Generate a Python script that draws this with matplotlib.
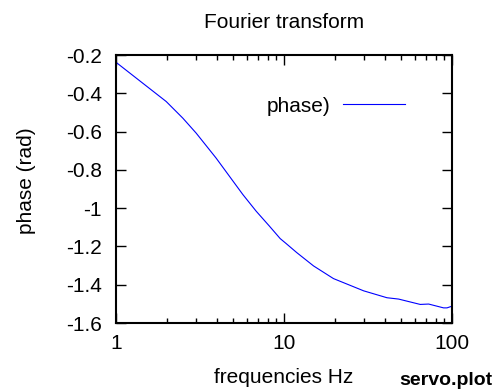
import numpy as np
import matplotlib.pyplot as plt
from matplotlib.ticker import FixedLocator, NullFormatter

plt.rcParams['font.family'] = ['Liberation Sans', 'DejaVu Sans']

# phase response read from the servo measurement
freq_hz = [1.0, 1.99, 2.5, 3.0, 3.94, 4.73, 5.69, 6.83, 8.19, 9.49, 10.3, 11.9, 15.0, 19.7,
           29.8, 41.0, 48.1, 64.7, 72.6, 89.1, 93.4, 100.0]
phase_rad = [-0.238, -0.443, -0.53, -0.608, -0.738, -0.833, -0.929, -1.016, -1.094, -1.159, -1.185,
             -1.232, -1.302, -1.368, -1.432, -1.468, -1.475, -1.503, -1.501, -1.521, -1.521, -1.512]

y_ticks = [-1.6, -1.4, -1.2, -1.0, -0.8, -0.6, -0.4, -0.2]
y_labels = ['-1.6', '-1.4', '-1.2', '-1', '-0.8', '-0.6', '-0.4', '-0.2']
x_ticks = [1, 10, 100]
x_labels = ['1', '10', '100']

W, H = 501, 392
FS = 15

fig = plt.figure(figsize=(W / 100, H / 100), dpi=100)
ax = fig.add_axes([116 / W, 1 - 323 / H, 336 / W, 268 / H])

ax.plot(freq_hz, phase_rad, color='#0000ff', lw=0.8, label='phase)')
ax.set_xscale('log')
ax.set_xlim(1, 100)
ax.set_ylim(-1.6, -0.2)

ax.set_xticks(x_ticks)
ax.set_xticklabels(x_labels)
minors = [m * d for d in (1, 10) for m in range(2, 10)]
ax.xaxis.set_minor_locator(FixedLocator(minors))
ax.xaxis.set_minor_formatter(NullFormatter())
ax.set_yticks(y_ticks)
ax.set_yticklabels(y_labels)

ax.tick_params(which='both', direction='in', top=True, right=True, labelsize=FS, width=1)
ax.tick_params(axis='y', pad=10)
ax.tick_params(axis='x', pad=8)
ax.tick_params(which='major', length=7.2)
ax.tick_params(which='minor', length=3.6)
for s in ax.spines.values():
    s.set_linewidth(1.5)

# titles and labels placed in figure pixels, gnuplot style
fig.text(284 / W, 1 - 28 / H, 'Fourier transform', ha='center', va='baseline', fontsize=FS)
fig.text(284 / W, 1 - 383 / H, 'frequencies Hz', ha='center', va='baseline', fontsize=FS)
fig.text(26 / W, 1 - 181 / H, 'phase (rad)', ha='center', va='center', rotation=90, fontsize=FS)
fig.text(492 / W, 1 - 385 / H, 'servo.plot', ha='right', va='baseline', fontsize=FS - 1, fontweight='bold')

ax.legend(loc='center right', frameon=False, fontsize=FS, markerfirst=False,
          handlelength=3.0, handletextpad=0.6, borderpad=0, borderaxespad=0,
          bbox_to_anchor=(405 / W, 1 - 106 / H), bbox_transform=fig.transFigure)

fig.savefig('out.png', dpi=100)
